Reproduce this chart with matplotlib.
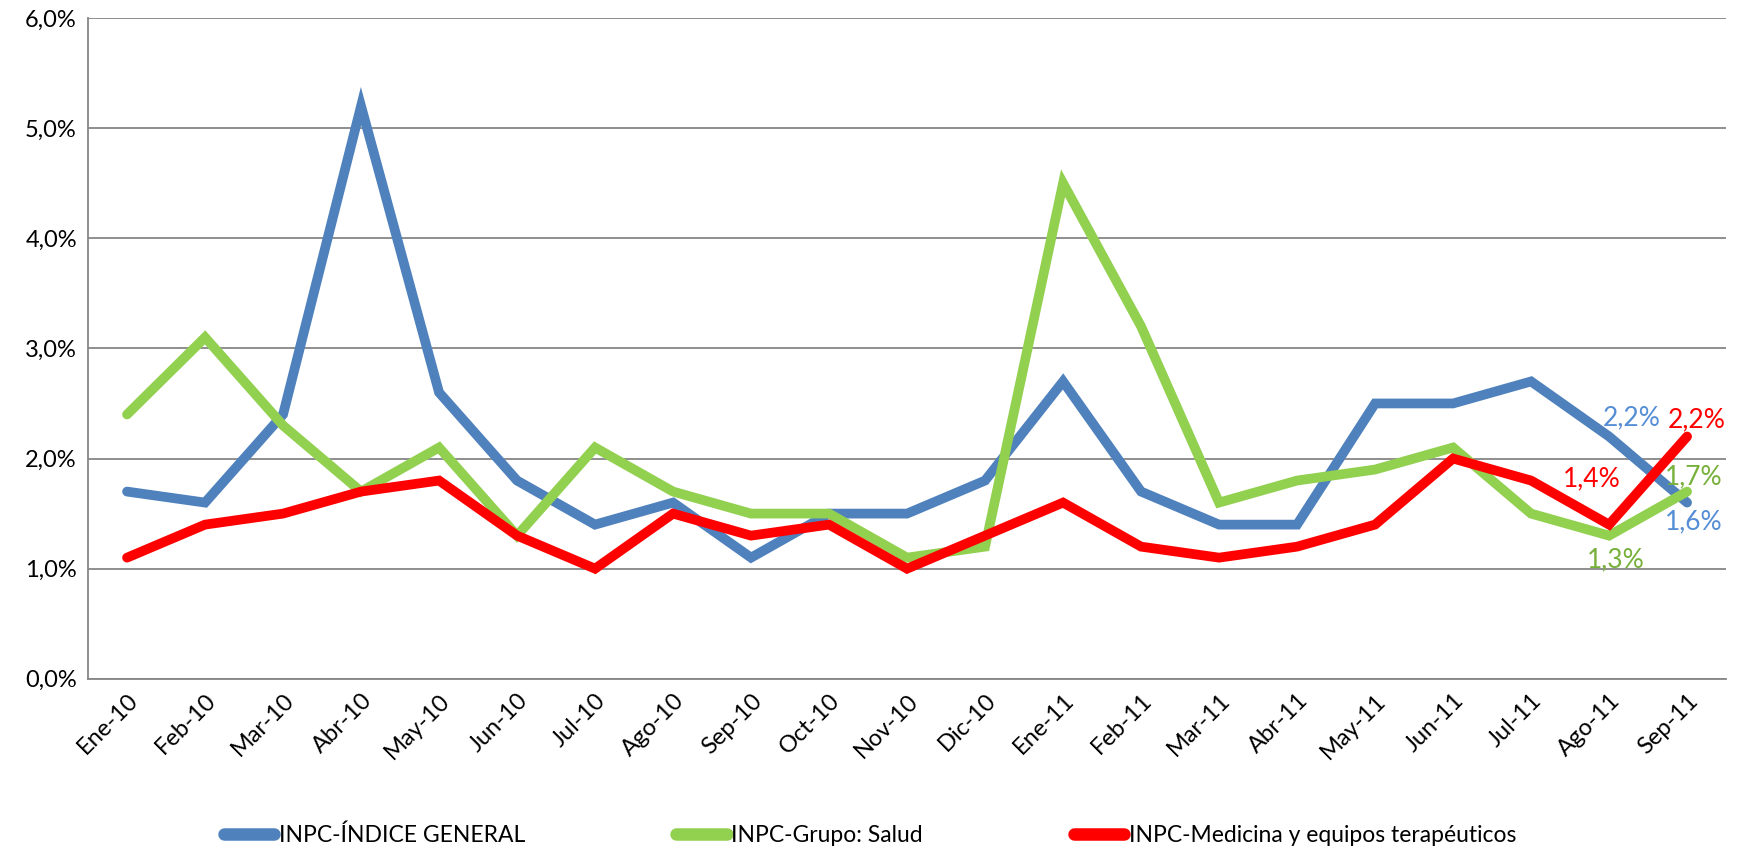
import matplotlib.pyplot as plt
import numpy as np

plt.rcParams['font.family'] = ['Lato', 'DejaVu Sans']

# months (Spanish abbreviations)
meses = ['Ene-10', 'Feb-10', 'Mar-10', 'Abr-10', 'May-10', 'Jun-10', 'Jul-10',
         'Ago-10', 'Sep-10', 'Oct-10', 'Nov-10', 'Dic-10', 'Ene-11', 'Feb-11',
         'Mar-11', 'Abr-11', 'May-11', 'Jun-11', 'Jul-11', 'Ago-11', 'Sep-11']

# annual variation, %
general = [1.7, 1.6, 2.4, 5.2, 2.6, 1.8, 1.4, 1.6, 1.1, 1.5, 1.5, 1.8, 2.7, 1.7,
           1.4, 1.4, 2.5, 2.5, 2.7, 2.2, 1.6]
salud = [2.4, 3.1, 2.3, 1.7, 2.1, 1.3, 2.1, 1.7, 1.5, 1.5, 1.1, 1.2, 4.5, 3.2,
         1.6, 1.8, 1.9, 2.1, 1.5, 1.3, 1.7]
medicina = [1.1, 1.4, 1.5, 1.7, 1.8, 1.3, 1.0, 1.5, 1.3, 1.4, 1.0, 1.3, 1.6, 1.2,
            1.1, 1.2, 1.4, 2.0, 1.8, 1.4, 2.2]

nombres = ['INPC-ÍNDICE GENERAL', 'INPC-Grupo: Salud',
           'INPC-Medicina y equipos terapéuticos']
colores = ['#4F81BD', '#92D050', '#FF0000']
colores_txt = ['#558ED5', '#77B03A', '#FF0000']

fig = plt.figure(figsize=(17.4, 8.56), dpi=100)
ax = fig.add_axes([0.0506, 0.207, 0.9414, 0.772])

x = np.arange(len(meses))
for serie, nombre, c in zip([general, salud, medicina], nombres, colores):
    ax.plot(x, serie, color=c, lw=7, solid_capstyle='round',
            solid_joinstyle='miter', label=nombre)

def fmt(v):
    return f'{v:.1f}%'.replace('.', ',')

def etiqueta(serie, i, dx, dy, va, color):
    ax.annotate(fmt(serie[i]), (x[i], serie[i]), xytext=(dx, dy),
                textcoords='offset pixels', ha='center', va=va,
                color=color, fontsize=19)

# data labels on the last two months
n = len(meses)
etiqueta(general, n - 2, 23, 6, 'bottom', colores_txt[0])
etiqueta(general, n - 1, 7, -7, 'top', colores_txt[0])
etiqueta(salud, n - 2, 7, -12, 'top', colores_txt[1])
etiqueta(salud, n - 1, 7, 2, 'bottom', colores_txt[1])
etiqueta(medicina, n - 2, -17, 33, 'bottom', colores_txt[2])
etiqueta(medicina, n - 1, 10, 4, 'bottom', colores_txt[2])

ax.set_xlim(-0.5, n - 0.5)
ax.set_ylim(0, 6)
ax.set_yticks(np.arange(0, 6.1, 1))
ax.set_yticklabels([fmt(v) for v in np.arange(0, 6.1, 1)], fontsize=17)
ax.set_xticks(x)
ax.set_xticklabels(meses, rotation=45, ha='right', rotation_mode='anchor',
                   fontsize=17)
ax.tick_params(axis='both', length=0, pad=8)
ax.grid(axis='y', color='#868686', lw=1.3)
ax.set_axisbelow(True)
for s in ['top', 'right']:
    ax.spines[s].set_visible(False)
for s in ['left', 'bottom']:
    ax.spines[s].set_color('#868686')
    ax.spines[s].set_linewidth(1.3)

leg = fig.legend(loc='lower center', ncol=3, frameon=False, fontsize=16.5,
                 bbox_to_anchor=(0.5, -0.012), handlelength=2.2,
                 columnspacing=6.6, handletextpad=0.2)
for h in leg.get_lines():
    h.set_linewidth(9)

fig.savefig('out.png', dpi=100, facecolor='white')
